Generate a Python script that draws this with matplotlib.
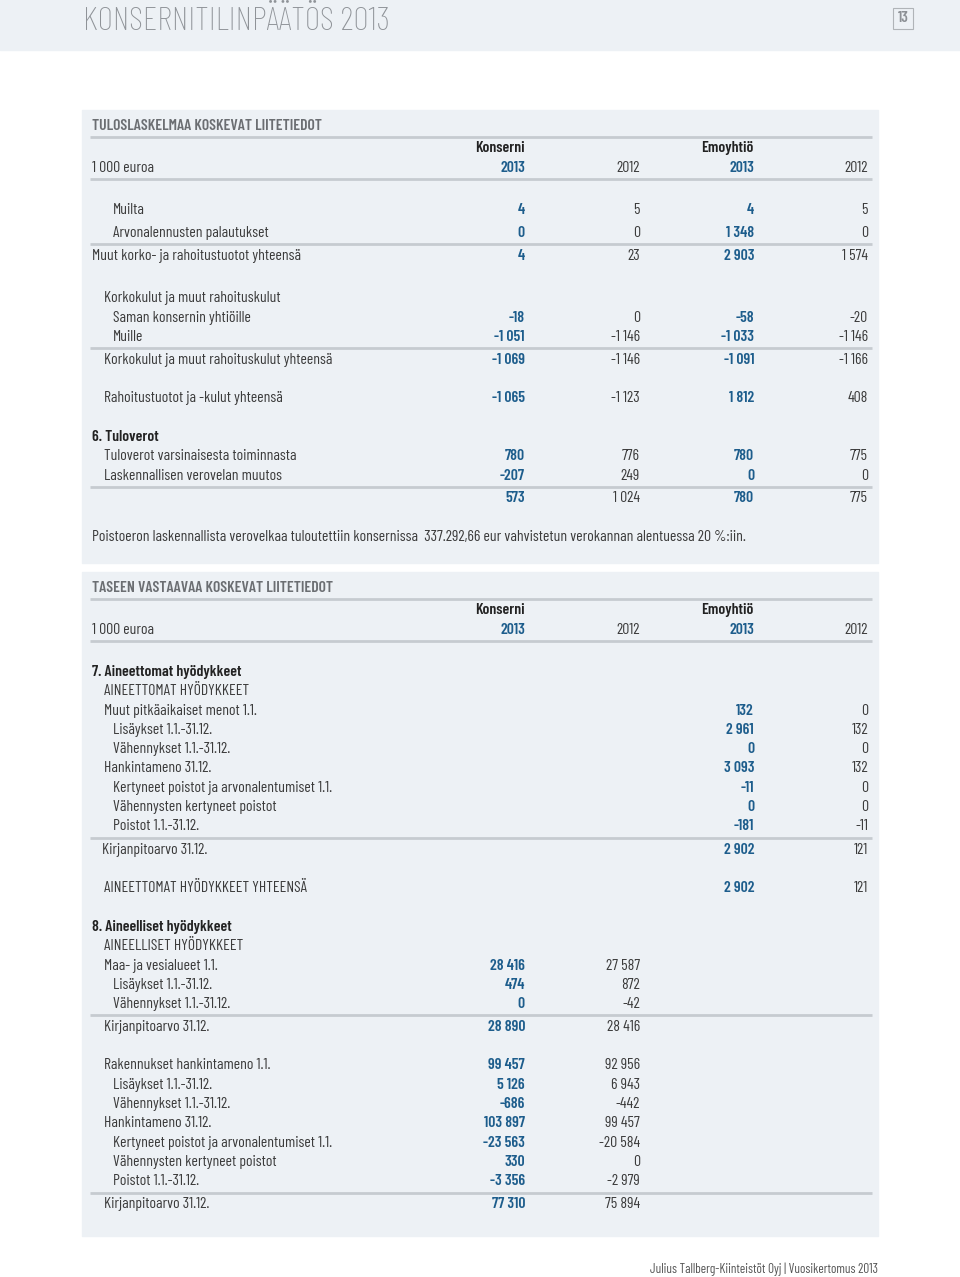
import matplotlib
matplotlib.use("Agg")
import matplotlib.pyplot as plt
from matplotlib.patches import Rectangle

# ---- data -------------------------------------------------------------
col_groups = ["Konserni", "Emoyhtiö"]
years = ["2013", "2012", "2013", "2012"]

# Tuloslaskelmaa koskevat liitetiedot
labels_1 = ["Muilta", "Arvonalennusten palautukset",
            "Muut korko- ja rahoitustuotot yhteensä",
            "Korkokulut ja muut rahoituskulut", "Saman konsernin yhtiöille", "Muille",
            "Korkokulut ja muut rahoituskulut yhteensä",
            "Rahoitustuotot ja -kulut yhteensä",
            "6. Tuloverot", "Tuloverot varsinaisesta toiminnasta",
            "Laskennallisen verovelan muutos", ""]
konserni_2013_1 = [4, 0, 4, None, -18, -1051, -1069, -1065, None, 780, -207, 573]
konserni_2012_1 = [5, 0, 23, None, 0, -1146, -1146, -1123, None, 776, 249, 1024]
emo_2013_1 = [4, 1348, 2903, None, -58, -1033, -1091, 1812, None, 780, 0, 780]
emo_2012_1 = [5, 0, 1574, None, -20, -1146, -1166, 408, None, 775, 0, 775]
note_1 = ("Poistoeron laskennallista verovelkaa tuloutettiin konsernissa  "
          "337.292,66 eur vahvistetun verokannan alentuessa 20 %:iin.")

# Taseen vastaavaa koskevat liitetiedot
labels_2 = ["7. Aineettomat hyödykkeet", "AINEETTOMAT HYÖDYKKEET",
            "Muut pitkäaikaiset menot 1.1.", "Lisäykset 1.1.-31.12.",
            "Vähennykset 1.1.-31.12.", "Hankintameno 31.12.",
            "Kertyneet poistot ja arvonalentumiset 1.1.",
            "Vähennysten kertyneet poistot", "Poistot 1.1.-31.12.",
            "Kirjanpitoarvo 31.12.", "AINEETTOMAT HYÖDYKKEET YHTEENSÄ",
            "8. Aineelliset hyödykkeet", "AINEELLISET HYÖDYKKEET",
            "Maa- ja vesialueet 1.1.", "Lisäykset 1.1.-31.12.",
            "Vähennykset 1.1.-31.12.", "Kirjanpitoarvo 31.12.",
            "Rakennukset hankintameno 1.1.", "Lisäykset 1.1.-31.12.",
            "Vähennykset 1.1.-31.12.", "Hankintameno 31.12.",
            "Kertyneet poistot ja arvonalentumiset 1.1.",
            "Vähennysten kertyneet poistot", "Poistot 1.1.-31.12.",
            "Kirjanpitoarvo 31.12."]
N = None
konserni_2013_2 = [N] * 13 + [28416, 474, 0, 28890, 99457, 5126, -686, 103897, -23563, 330, -3356, 77310]
konserni_2012_2 = [N] * 13 + [27587, 872, -42, 28416, 92956, 6943, -442, 99457, -20584, 0, -2979, 75894]
emo_2013_2 = [N, N, 132, 2961, 0, 3093, -11, 0, -181, 2902, 2902] + [N] * 14
emo_2012_2 = [N, N, 0, 132, 0, 132, 0, 0, -11, 121, 121] + [N] * 14

# ---- layout (pixels) --------------------------------------------------
y_1 = [210, 233, 256, 298, 318, 337, 360, 398, 437, 456, 476, 498]
x_1 = [113, 113, 92, 104, 113, 113, 104, 104, 92, 104, 104, 104]
rules_1 = [137, 179, 244, 348, 487]
y_2 = [672, 691, 711, 730, 749, 768, 788, 807, 826, 850, 888,
       927, 946, 966, 985, 1004, 1027, 1065, 1085, 1104, 1123, 1143, 1162, 1181, 1204]
x_2 = [92, 104, 104, 113, 113, 104, 113, 113, 113, 102, 104,
       92, 104, 104, 113, 113, 104, 104, 113, 113, 104, 113, 113, 113, 104]
rules_2 = [599, 641, 838, 1015, 1193]
col_x = [525, 640, 754, 868]

BLUE = "#1d5d8c"
TEXT = "#3b3b3b"
BG = "#edf1f5"
RULE = "#c6cbd0"
FONT = ["Barlow Condensed", "DejaVu Sans"]
FS = 11.3
W = 400


def fmt(v):
    if v is None:
        return ""
    s = f"{abs(v):,}".replace(",", " ")
    return ("-" if v < 0 else "") + s


fig = plt.figure(figsize=(9.6, 12.77), dpi=100)
ax = fig.add_axes([0, 0, 1, 1])
ax.set_xlim(0, 960)
ax.set_ylim(1277, 0)
ax.axis("off")

# header
ax.add_patch(Rectangle((0, 0), 960, 50, color=BG, zorder=0))
ax.text(83, 30, "KONSERNITILINPÄÄTÖS 2013", family=FONT, fontsize=24.5,
        fontweight=250, color="#8f9398", va="baseline", ha="left")
ax.add_patch(Rectangle((893, 8), 20, 21, facecolor="none", edgecolor="#b0b4b8", lw=0.8))
ax.text(903, 18.5, "13", family=FONT, fontsize=11, color="#8c9095",
        va="center", ha="center", fontweight=600)

# panels
ax.add_patch(Rectangle((82, 110), 796, 453, color=BG, zorder=0))
ax.add_patch(Rectangle((82, 572), 796, 664, color=BG, zorder=0))


def draw_header(y_title, title):
    ax.text(92, y_title, title, family=FONT, fontsize=FS, fontweight=600,
            color="#6b6e72", va="center")
    yk = y_title + 22
    ax.text(col_x[0], yk, col_groups[0], family=FONT, fontsize=FS,
            fontweight=600, color="#222222", va="center", ha="right")
    ax.text(col_x[2], yk, col_groups[1], family=FONT, fontsize=FS,
            fontweight=600, color="#222222", va="center", ha="right")
    yy = y_title + 42
    ax.text(92, yy, "1 000 euroa", family=FONT, fontsize=FS, fontweight=W,
            color=TEXT, va="center")
    for i, (cx, yr) in enumerate(zip(col_x, years)):
        bold = i % 2 == 0
        ax.text(cx, yy, yr, family=FONT, fontsize=FS, va="center", ha="right",
                color=BLUE if bold else TEXT, fontweight=600 if bold else W)


def draw_rows(labels, xs, ys, cols):
    for i, lab in enumerate(labels):
        bold_label = lab[:2] in ("6.", "7.", "8.")
        ax.text(xs[i], ys[i], lab, family=FONT, fontsize=FS, va="center",
                color="#222222" if bold_label else TEXT,
                fontweight=600 if bold_label else W)
        for j, series in enumerate(cols):
            s = fmt(series[i])
            if not s:
                continue
            bold = j % 2 == 0
            ax.text(col_x[j], ys[i], s, family=FONT, fontsize=FS, va="center",
                    ha="right", color=BLUE if bold else TEXT,
                    fontweight=600 if bold else W)


def draw_rules(ys):
    for y in ys:
        ax.plot([90, 872], [y, y], color=RULE, lw=2.0, solid_capstyle="butt")


draw_header(126, "TULOSLASKELMAA KOSKEVAT LIITETIEDOT")
draw_rows(labels_1, x_1, y_1, [konserni_2013_1, konserni_2012_1, emo_2013_1, emo_2012_1])
draw_rules(rules_1)
ax.text(92, 537, note_1, family=FONT, fontsize=FS, fontweight=W, color=TEXT, va="center")

draw_header(588, "TASEEN VASTAAVAA KOSKEVAT LIITETIEDOT")
draw_rows(labels_2, x_2, y_2, [konserni_2013_2, konserni_2012_2, emo_2013_2, emo_2012_2])
draw_rules(rules_2)

# footer
ax.text(878, 1269, "Julius Tallberg-Kiinteistöt Oyj | Vuosikertomus 2013",
        family=FONT, fontsize=9.5, fontweight=W, color="#555555", va="center", ha="right")

fig.savefig("out.png", dpi=100)
